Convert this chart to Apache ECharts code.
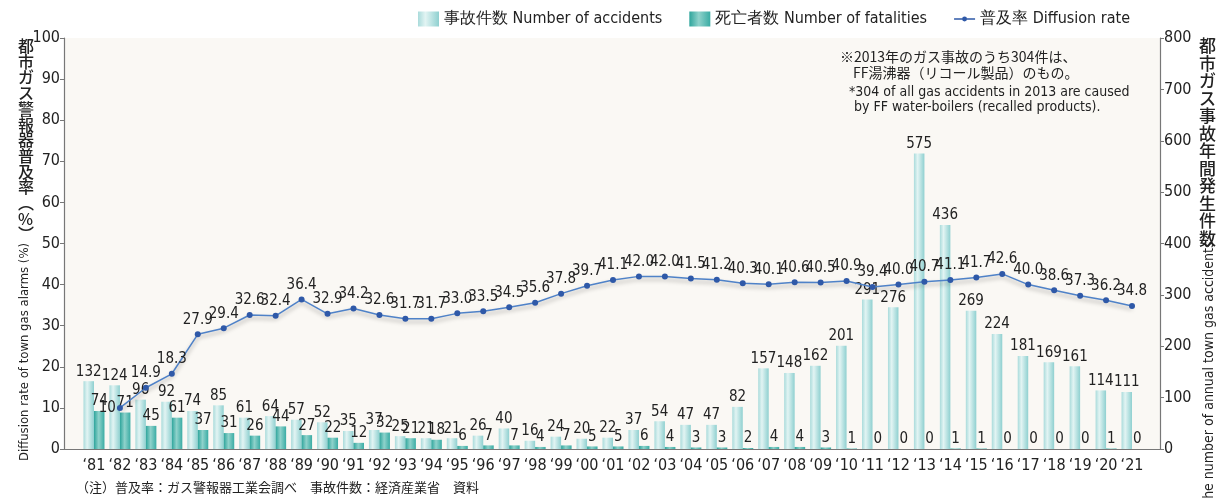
<!DOCTYPE html>
<html><head><meta charset="utf-8">
<script src="https://cdn.jsdelivr.net/npm/echarts@6/dist/echarts.min.js"></script>
<style>html,body{margin:0;padding:0;background:#fff}#c{width:1226px;height:498px}</style>
</head><body><div id="c"></div>
<script>
const years = ['81','82','83','84','85','86','87','88','89','90','91','92','93','94','95','96','97','98','99','00','01','02','03','04','05','06','07','08','09','10','11','12','13','14','15','16','17','18','19','20','21'];
const accidents = [132,124,96,92,74,85,61,64,57,52,35,37,25,21,21,26,40,16,24,20,22,37,54,47,47,82,157,148,162,201,291,276,575,436,269,224,181,169,161,114,111];
const fatalities = [74,71,45,61,37,31,26,44,27,22,12,32,21,18,6,7,7,4,7,5,5,6,4,3,3,2,4,4,3,1,0,0,0,1,1,0,0,0,0,1,0];
const diffusion = [null,10,14.9,18.3,27.9,29.4,32.6,32.4,36.4,32.9,34.2,32.6,31.7,31.7,33.0,33.5,34.5,35.6,37.8,39.7,41.1,42.0,42.0,41.5,41.2,40.3,40.1,40.6,40.5,40.9,39.4,40.0,40.7,41.1,41.7,42.6,40.0,38.6,37.3,36.2,34.8];
const leftTicks = [0,10,20,30,40,50,60,70,80,90,100];
const rightTicks = [0,100,200,300,400,500,600,700,800];

const NARROW = "'Liberation Sans Narrow','DejaVu Sans Condensed',Roboto,sans-serif";
const CJK = "'Noto Sans CJK JP','Noto Sans',sans-serif";
const TOP = 38, BOTTOM = 49;

const accColor = {type:'linear',x:0,y:0,x2:1,y2:0,colorStops:[
  {offset:0,color:'#a9dbdb'},{offset:0.35,color:'#e2f4f3'},{offset:1,color:'#8fd0d0'}]};
const fatColor = {type:'linear',x:0,y:0,x2:1,y2:0,colorStops:[
  {offset:0,color:'#2ea59c'},{offset:0.45,color:'#8fd2cb'},{offset:1,color:'#3aaca4'}]};

const chart = echarts.init(document.getElementById('c'), null, {renderer:'canvas'});

const diffData = diffusion.map((v,i)=> (i===1 ? {value:v,label:{position:'left',distance:1,formatter:'10'}} : v));

chart.setOption({
  animation:false,
  textStyle:{fontFamily:NARROW},
  legend:{
    top:6, left:413, itemGap:27, itemWidth:21, itemHeight:15,
    textStyle:{fontFamily:NARROW, fontSize:16, color:'#222'},
    data:[{name:'事故件数 Number of accidents', icon:'rect'},
          {name:'死亡者数 Number of fatalities', icon:'rect'},
          {name:'普及率 Diffusion rate', icon:'path://M0 9h30v2H0z M15 6.5a3.5 3.5 0 1 1 0 7a3.5 3.5 0 1 1 0-7z'}]
  },
  grid:[
    {left:64, right:66, top:TOP, bottom:BOTTOM, show:true, backgroundColor:'#faf8f4', borderWidth:0},
    {left:81, right:81, top:TOP, bottom:BOTTOM}
  ],
  xAxis:[
    {gridIndex:0, type:'value', min:0, max:1, axisLine:{show:true,onZero:false,lineStyle:{color:'#777',width:1.2}},
     axisTick:{show:false}, axisLabel:{show:false}, splitLine:{show:false}},
    {gridIndex:1, type:'category', data:years.map(y=>'\u2018'+y), axisLine:{show:false}, axisTick:{show:false},
     axisLabel:{interval:0, fontFamily:NARROW, fontSize:16, color:'#222', margin:9}}
  ],
  yAxis:[
    {gridIndex:0, type:'value', min:0, max:100, interval:10, position:'left',
     axisLine:{show:true,lineStyle:{color:'#777',width:1.2}}, axisTick:{show:true,length:4,lineStyle:{color:'#777'}},
     axisLabel:{fontFamily:NARROW,fontSize:16,color:'#222',margin:4}, splitLine:{show:false}},
    {gridIndex:0, type:'value', min:0, max:800, interval:100, position:'right',
     axisLine:{show:true,lineStyle:{color:'#777',width:1.2}}, axisTick:{show:true,length:4,lineStyle:{color:'#777'}},
     axisLabel:{fontFamily:NARROW,fontSize:16,color:'#222',margin:4}, splitLine:{show:false}},
    {gridIndex:1, type:'value', min:0, max:800, show:false, splitLine:{show:false}},
    {gridIndex:1, type:'value', min:0, max:100, show:false, splitLine:{show:false}}
  ],
  series:[
    {name:'事故件数 Number of accidents', type:'bar', xAxisIndex:1, yAxisIndex:2, data:accidents,
     barWidth:10.5, barGap:'0%', itemStyle:{color:accColor},
     label:{show:true, position:'top', distance:2, fontFamily:NARROW, fontSize:15, color:'#222'}},
    {name:'死亡者数 Number of fatalities', type:'bar', xAxisIndex:1, yAxisIndex:2, data:fatalities,
     barWidth:10.5, barGap:'0%', itemStyle:{color:fatColor},
     label:{show:true, position:'top', distance:2, fontFamily:NARROW, fontSize:15, color:'#222'}},
    {name:'普及率 Diffusion rate', type:'line', xAxisIndex:1, yAxisIndex:3, data:diffData, z:5,
     symbol:'circle', symbolSize:6, connectNulls:false,
     lineStyle:{color:'#4f82c8', width:1.5, shadowColor:'rgba(0,0,0,0.35)', shadowBlur:4, shadowOffsetY:3},
     itemStyle:{color:'#2f59a8'},
     label:{show:true, position:'top', distance:4, fontFamily:NARROW, fontSize:15, color:'#222',
            formatter:p=>p.value==null?'':Number(p.value).toFixed(1)}}
  ],
  graphic:[
    {type:'text', left:18, top:38, style:{text:'都\n市\nガ\nス\n警\n報\n器\n普\n及\n率\n︵\n%\n︶', font:'500 16px '+CJK, lineHeight:15.7, fill:'#222', align:'center'}},
    {type:'text', x:25, y:352, rotation:Math.PI/2, style:{text:'Diffusion rate of town gas alarms (%)', font:'13px '+NARROW, fill:'#222', align:'center', verticalAlign:'middle'}},
    {type:'text', left:1199, top:37, style:{text:'都\n市\nガ\nス\n事\n故\n年\n間\n発\n生\n件\n数', font:'500 17px '+CJK, lineHeight:17.5, fill:'#222', align:'center'}},
    {type:'text', x:1209, y:374, rotation:Math.PI/2, style:{text:'The number of annual town gas accidents', font:'14px '+NARROW, fill:'#222', align:'center', verticalAlign:'middle'}},
    {type:'text', left:840, top:50, style:{text:'※2013年のガス事故のうち304件は、', font:'14px '+CJK, fill:'#222'}},
    {type:'text', left:853, top:66, style:{text:'FF湯沸器（リコール製品）のもの。', font:'14px '+CJK, fill:'#222'}},
    {type:'text', left:849, top:85, style:{text:'*304 of all gas accidents in 2013 are caused', font:'14px '+NARROW, fill:'#222'}},
    {type:'text', left:854, top:100, style:{text:'by FF water-boilers (recalled products).', font:'14px '+NARROW, fill:'#222'}},
    {type:'text', left:76, top:481, style:{text:'（注）普及率：ガス警報器工業会調べ　事故件数：経済産業省　資料', font:'13px '+CJK, fill:'#222'}}
  ]
});
</script></body></html>
